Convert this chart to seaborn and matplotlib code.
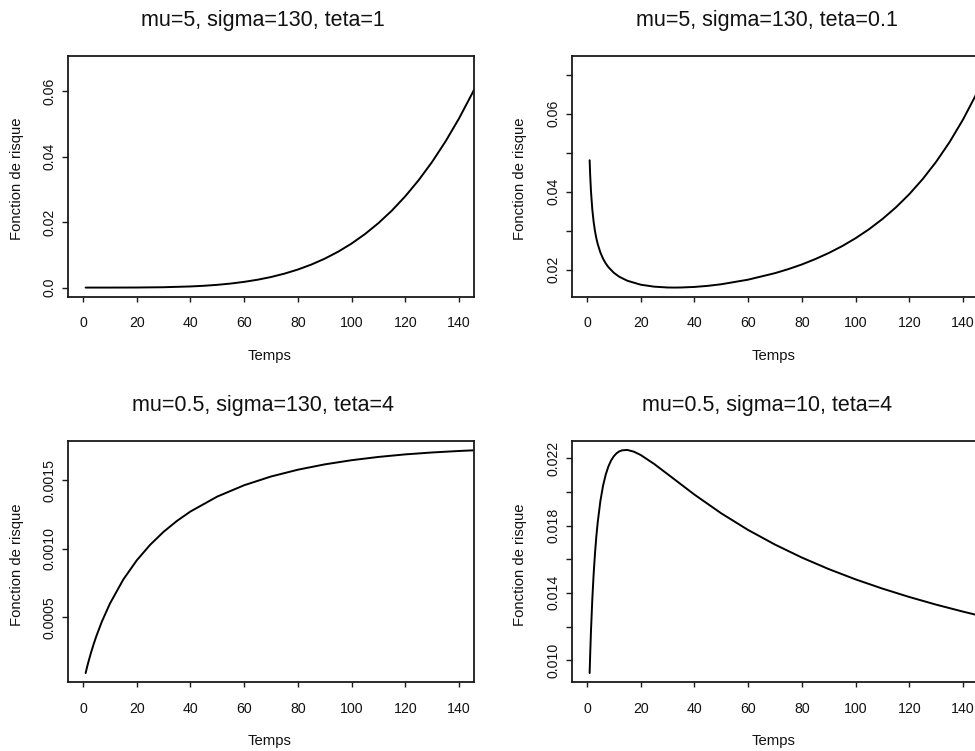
import matplotlib
matplotlib.use("Agg")
import matplotlib.pyplot as plt
import numpy as np
import pandas as pd
import seaborn as sns

# ---------------- data ----------------
titles = ["mu=5, sigma=130, teta=1", "mu=5, sigma=130, teta=0.1",
          "mu=0.5, sigma=130, teta=4", "mu=0.5, sigma=10, teta=4"]
x_label = "Temps"
y_label = "Fonction de risque"
x_ticks = [0, 20, 40, 60, 80, 100, 120, 140]

# panel 1 : mu=5, sigma=130, teta=1
t1 = [1, 10, 20, 30, 40, 45, 50, 55, 60, 65, 70, 75, 80, 85, 90, 95, 100,
      105, 110, 115, 120, 125, 130, 135, 140, 145, 150]
h1 = [0.0, 0.0000014, 0.0000215, 0.000109, 0.000345, 0.00055, 0.00084,
      0.00123, 0.00175, 0.0024, 0.00323, 0.00426, 0.00552, 0.00703, 0.00884,
      0.01097, 0.01347, 0.01637, 0.01972, 0.02355, 0.02793, 0.03288, 0.03846,
      0.04473, 0.05173, 0.05953, 0.06817]

# panel 2 : mu=5, sigma=130, teta=0.1
t2 = [1, 1.2, 1.5, 2, 2.5, 3, 3.5, 4, 5, 6, 7, 8, 10, 12, 15, 20, 25, 30,
      32.5, 35, 40, 45, 50, 60, 70, 75, 80, 85, 90, 95, 100, 105, 110, 115,
      120, 125, 130, 135, 140, 145, 150]
h2 = [0.04807, 0.04429, 0.0401, 0.0354, 0.0322, 0.02985, 0.02804, 0.02659,
      0.0244, 0.0228, 0.02158, 0.02062, 0.01919, 0.01818, 0.01715, 0.01613,
      0.01562, 0.01541, 0.015385, 0.01541, 0.01555, 0.01583, 0.01624, 0.01742,
      0.01909, 0.02013, 0.02132, 0.0227, 0.02426, 0.02603, 0.02806, 0.03036,
      0.03299, 0.03597, 0.03937, 0.04326, 0.04769, 0.05275, 0.05854, 0.06513,
      0.07262]

# panel 3 : mu=0.5, sigma=130, teta=4
t3 = [1, 1.5, 2, 3, 4, 5, 7, 10, 15, 20, 25, 30, 35, 40, 50, 60, 70, 80, 90,
      100, 110, 120, 130, 140, 145, 150]
h3 = [0.0000951, 0.000136, 0.000174, 0.0002436, 0.0003067, 0.0003646,
      0.0004677, 0.0005993, 0.0007756, 0.000915, 0.0010287, 0.0011232,
      0.0012029, 0.001271, 0.00138, 0.0014624, 0.001526, 0.0015755, 0.0016143,
      0.0016447, 0.0016685, 0.0016871, 0.001701, 0.0017119, 0.0017162,
      0.0017195]

# panel 4 : mu=0.5, sigma=10, teta=4
t4 = [1, 1.2, 1.5, 2, 2.5, 3, 3.5, 4, 5, 6, 7, 8, 9, 10, 11, 12, 13, 15,
      17.5, 20, 25, 30, 40, 50, 60, 70, 80, 90, 100, 110, 120, 130, 140, 145,
      150]
h4 = [0.009235, 0.010324, 0.011732, 0.013638, 0.015142, 0.016355, 0.017354,
      0.018177, 0.019453, 0.020369, 0.021029, 0.021515, 0.021866, 0.022114,
      0.022287, 0.022401, 0.022464, 0.02249, 0.022385, 0.02219, 0.021659,
      0.021054, 0.019838, 0.018723, 0.017735, 0.016867, 0.016096, 0.015412,
      0.0148, 0.014252, 0.013753, 0.013299, 0.012885, 0.012691, 0.012504]

y_ticks = [[0.0, 0.02, 0.04, 0.06],
           [0.02, 0.03, 0.04, 0.05, 0.06, 0.07],
           [0.0005, 0.0010, 0.0015],
           [0.010, 0.012, 0.014, 0.016, 0.018, 0.020, 0.022]]
y_ticklabels = [["0.0", "0.02", "0.04", "0.06"],
                ["0.02", "", "0.04", "", "0.06", ""],
                ["0.0005", "0.0010", "0.0015"],
                ["0.010", "", "0.014", "", "0.018", "", "0.022"]]

series = [(t1, h1), (t2, h2), (t3, h3), (t4, h4)]

# ---------------- style ----------------
sns.set_style("ticks")
plt.rcParams["font.family"] = ["Liberation Sans", "DejaVu Sans"]

W, H = 975, 751
fig = plt.figure(figsize=(W / 100, H / 100), dpi=100)

# axes rectangles in pixels: left, top, width, height
rects = [(67.9, 55.7, 406.2, 240.8), (571.9, 55.7, 406.2, 240.8),
         (67.9, 441.0, 406.2, 241.0), (571.9, 441.0, 406.2, 241.0)]
ylab_x = [-0.1248, -0.129, -0.1248, -0.129]

ink = "#1a1a1a"
for i, (l, t, w, h) in enumerate(rects):
    ax = fig.add_axes([l / W, (H - t - h) / H, w / W, h / H])
    tt, hh = series[i]
    df = pd.DataFrame({"Temps": tt, "h": hh})
    sns.lineplot(data=df, x="Temps", y="h", ax=ax, color="black",
                 linewidth=1.4, estimator=None, sort=False)
    ax.set_xlim(-5.6, 145.6)
    ymin, ymax = min(hh), max(hh)
    ax.set_ylim(ymin - 0.04 * (ymax - ymin), ymax + 0.04 * (ymax - ymin))
    ax.set_xticks(x_ticks)
    ax.set_xticklabels([str(v) for v in x_ticks])
    ax.set_yticks(y_ticks[i])
    ax.set_yticklabels(y_ticklabels[i])
    ax.set_xlabel("")
    ax.set_ylabel("")
    for s in ax.spines.values():
        s.set_linewidth(1.3)
        s.set_color(ink)
    ax.tick_params(axis="x", direction="out", length=3.8, width=1.0,
                   color=ink, labelsize=10.2, pad=10.5, labelcolor="#111111")
    ax.tick_params(axis="y", direction="out", length=4.0, width=1.0,
                   color=ink, labelsize=10.2, pad=4.3, labelcolor="#111111")
    for lab in ax.get_yticklabels():
        lab.set_rotation(90)
        lab.set_va("center")
        lab.set_ha("right")
    ax.grid(False)
    ax.text(0.48, 1 + 30 / h, titles[i], transform=ax.transAxes,
            ha="center", va="baseline", fontsize=15.5, color="#111111")
    ax.text(0.496, -63.5 / h, x_label, transform=ax.transAxes,
            ha="center", va="baseline", fontsize=10.7, color="#111111")
    ax.text(ylab_x[i], 0.487, y_label, transform=ax.transAxes, rotation=90,
            ha="center", va="center", fontsize=10.7, color="#111111")

fig.savefig("out.png", dpi=100, facecolor="white")
